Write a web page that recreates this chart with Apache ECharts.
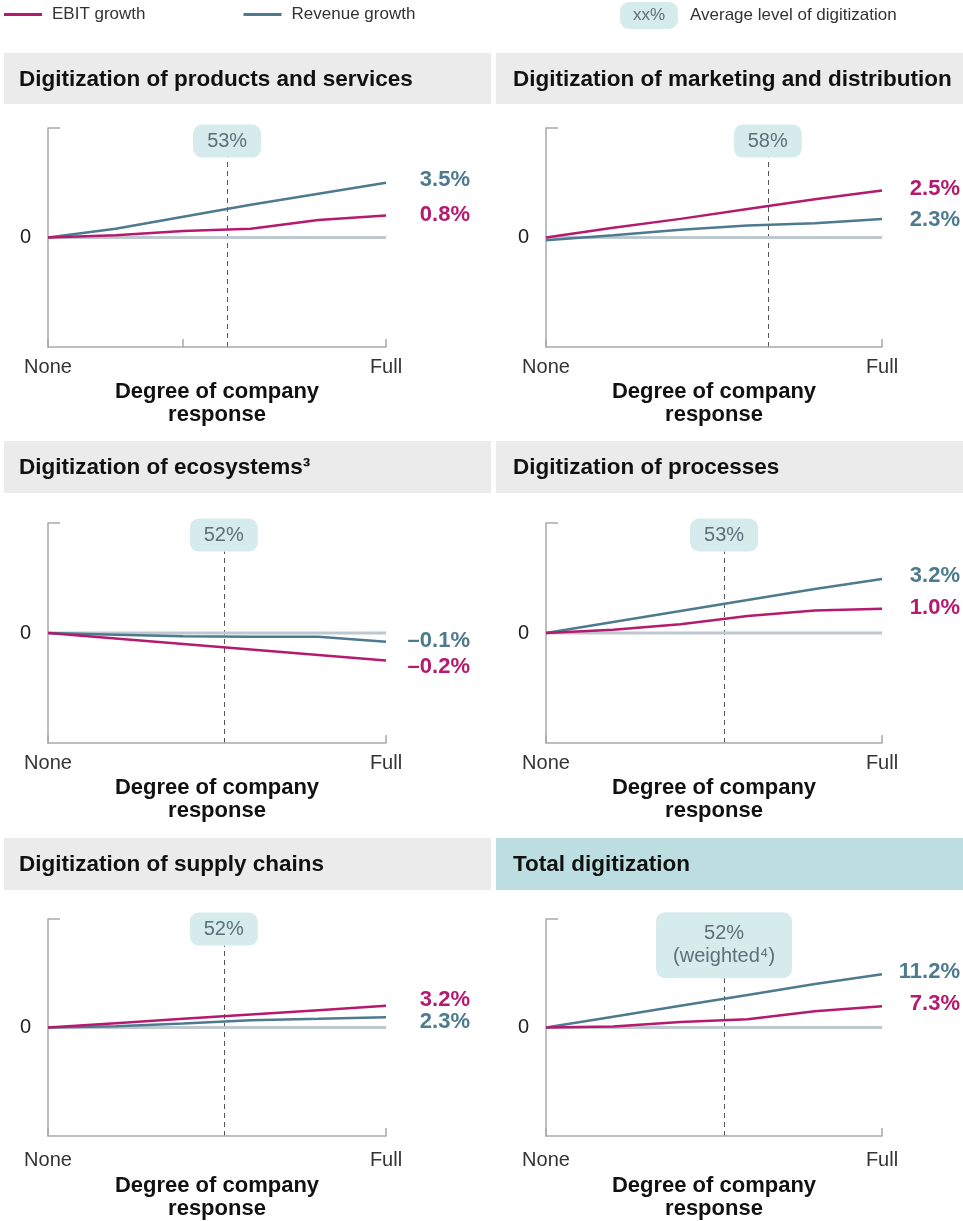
<!DOCTYPE html>
<html><head><meta charset="utf-8">
<script src="https://cdn.jsdelivr.net/npm/echarts@6/dist/echarts.min.js"></script>
<style>html,body{margin:0;padding:0;background:#fff}#c{width:963px;height:1221px}</style>
</head><body><div id="c"></div><script>
// ---------- data ----------
const panelTitles = [
  'Digitization of products and services',
  'Digitization of marketing and distribution',
  'Digitization of ecosystems³',
  'Digitization of processes',
  'Digitization of supply chains',
  'Total digitization'
];
const xLevels = [0, 20, 40, 60, 80, 100];            // degree of company response (None .. Full)
const xTickLabels = ['None', 'Full'];
const yTickLabel = '0';
// line heights (each panel on its own relative scale, -1..1)
const ebitProducts      = [0, 0.02, 0.06, 0.08, 0.16, 0.20];
const revenueProducts   = [0, 0.08, 0.19, 0.30, 0.40, 0.50];
const ebitMarketing     = [0, 0.09, 0.17, 0.26, 0.35, 0.43];
const revenueMarketing  = [-0.025, 0.02, 0.07, 0.11, 0.13, 0.17];
const ebitEcosystems    = [0, -0.05, -0.10, -0.15, -0.20, -0.25];
const revenueEcosystems = [0, -0.015, -0.03, -0.033, -0.035, -0.08];
const ebitProcesses     = [0, 0.03, 0.08, 0.155, 0.205, 0.22];
const revenueProcesses  = [0, 0.10, 0.20, 0.30, 0.40, 0.49];
const ebitSupply        = [0, 0.04, 0.08, 0.12, 0.16, 0.20];
const revenueSupply     = [0, 0.012, 0.036, 0.066, 0.08, 0.095];
const ebitTotal         = [0, 0.01, 0.05, 0.075, 0.15, 0.195];
const revenueTotal      = [0, 0.10, 0.20, 0.30, 0.40, 0.49];
const ebitEndLabels     = ['0.8%', '2.5%', '–0.2%', '1.0%', '3.2%', '7.3%'];
const revenueEndLabels  = ['3.5%', '2.3%', '–0.1%', '3.2%', '2.3%', '11.2%'];
const avgLabels         = ['53%', '58%', '52%', '53%', '52%', '52%\n(weighted⁴)'];
const avgPositions      = [53, 66, 52, 53, 52, 53];
const extraTicks        = [[40], [], [], [], [], []];

const ebitSeries = [ebitProducts, ebitMarketing, ebitEcosystems, ebitProcesses, ebitSupply, ebitTotal];
const revenueSeries = [revenueProducts, revenueMarketing, revenueEcosystems, revenueProcesses, revenueSupply, revenueTotal];

// ---------- layout / style ----------
const FONT = '"Liberation Sans", Arial, Helvetica, sans-serif';
const EBIT = '#b51a6e', REV = '#4d7a8e', AXIS = '#a9a9a9', ZERO = '#bec8cf';
const PILL = '#d6ebec', PILLTXT = '#5d7078';
const L = {
  colLeft: [48, 546], colWidth: [338, 336],
  rowTop: [128, 523, 919], rowHeight: [219, 220, 219],
  headerTop: [53, 441, 838], headerHeight: [51, 52, 52],
  headerLeft: [4, 496], headerWidth: [487, 467], titleLeft: [19, 513],
  labelRight: [470, 960],
  xLabelMargin: [10, 10, 14], nameGap: [33, 33, 38],
  dashTop: [0.73, 0.73, 0.74, 0.74, 0.755, 0.455],
  ebitDy: [-1, -1, 6, -1, -6, -2],
  revDy: [-3, 1, -1, -3, 5, -2]
};

const grids = [], xAxes = [], yAxes = [], series = [], graphics = [];
const pairs = ys => xLevels.map((x, i) => [x, ys[i]]);

for (let i = 0; i < 6; i++) {
  const row = Math.floor(i / 2), col = i % 2;
  grids.push({ left: L.colLeft[col], width: L.colWidth[col], top: L.rowTop[row], height: L.rowHeight[row] });
  xAxes.push({
    gridIndex: i, type: 'value', min: xLevels[0], max: xLevels[xLevels.length - 1], interval: 100,
    axisLine: { show: true, onZero: false, lineStyle: { color: AXIS, width: 1.5 } },
    axisTick: { show: true, inside: true, length: 8, lineStyle: { color: AXIS, width: 1.5 },
      customValues: [xLevels[0]].concat(extraTicks[i], [xLevels[xLevels.length - 1]]) },
    axisLabel: { margin: L.xLabelMargin[row], fontFamily: FONT, fontSize: 20, color: '#333',
      formatter: v => v === 0 ? xTickLabels[0] : xTickLabels[1] },
    splitLine: { show: false },
    name: 'Degree of company\nresponse', nameLocation: 'middle', nameGap: L.nameGap[row],
    nameTextStyle: { fontFamily: FONT, fontSize: 22, fontWeight: 'bold', color: '#111', lineHeight: 23 }
  });
  yAxes.push({
    gridIndex: i, type: 'value', min: -1, max: 1, interval: 1,
    axisLine: { show: true, onZero: false, lineStyle: { color: AXIS, width: 1.5 } },
    axisTick: { show: true, inside: true, length: 12, customValues: [1], lineStyle: { color: AXIS, width: 1.5 } },
    axisLabel: { margin: 17, fontFamily: FONT, fontSize: 20, color: '#222', formatter: v => v === 0 ? yTickLabel : '' },
    splitLine: { show: false }
  });
  const dx = L.labelRight[col] - (L.colLeft[col] + L.colWidth[col]);
  const endMark = (vals, text, color, dy) => ({
    symbol: 'circle', symbolSize: 1, itemStyle: { color: 'rgba(0,0,0,0)' }, silent: true,
    label: { show: true, position: 'inside', align: 'right', verticalAlign: 'middle', offset: [dx, dy],
      formatter: text, color: color, fontFamily: FONT, fontSize: 22, fontWeight: 'bold' },
    data: [{ coord: [xLevels[xLevels.length - 1], vals[vals.length - 1]] }]
  });
  // zero line + average-level marker
  series.push({
    type: 'line', xAxisIndex: i, yAxisIndex: i, data: [[xLevels[0], 0], [xLevels[xLevels.length - 1], 0]],
    symbol: 'none', silent: true, z: 1, lineStyle: { color: ZERO, width: 3 },
    markLine: {
      symbol: ['none', 'none'], silent: true, z: 0,
      lineStyle: { type: [5, 4], color: '#555', width: 1 },
      label: { show: true, position: 'end', distance: 0, formatter: avgLabels[i],
        backgroundColor: PILL, color: PILLTXT, fontFamily: FONT, fontSize: 20, lineHeight: 23,
        padding: i === 5 ? [10, 17, 10, 17] : [5, 14, 5, 14], borderRadius: 9, align: 'center' },
      data: [[{ coord: [avgPositions[i], -1] }, { coord: [avgPositions[i], L.dashTop[i]] }]]
    }
  });
  series.push({
    name: 'Revenue growth', type: 'line', xAxisIndex: i, yAxisIndex: i, data: pairs(revenueSeries[i]),
    symbol: 'none', z: 3, lineStyle: { color: REV, width: 2.5 }, itemStyle: { color: REV },
    markPoint: endMark(revenueSeries[i], revenueEndLabels[i], REV, L.revDy[i])
  });
  series.push({
    name: 'EBIT growth', type: 'line', xAxisIndex: i, yAxisIndex: i, data: pairs(ebitSeries[i]),
    symbol: 'none', z: 4, lineStyle: { color: EBIT, width: 2.5 }, itemStyle: { color: EBIT },
    markPoint: endMark(ebitSeries[i], ebitEndLabels[i], EBIT, L.ebitDy[i])
  });
  // header band
  graphics.push({ type: 'rect', z: -10, shape: { x: L.headerLeft[col], y: L.headerTop[row], width: L.headerWidth[col], height: L.headerHeight[row] },
    style: { fill: i === 5 ? '#bcdee0' : '#ebebeb' } });
  graphics.push({ type: 'text', z: 10, x: L.titleLeft[col], y: L.headerTop[row] + L.headerHeight[row] / 2 + 1,
    style: { text: panelTitles[i], fontFamily: FONT, fontSize: 22.5, fontWeight: 'bold', fill: '#111', verticalAlign: 'middle' } });
}
// legend pill item
graphics.push({ type: 'rect', shape: { x: 620, y: 2, width: 58, height: 27, r: 9 }, style: { fill: PILL } });
graphics.push({ type: 'text', x: 649, y: 15.5, style: { text: 'xx%', fontFamily: FONT, fontSize: 17, fill: PILLTXT, align: 'center', verticalAlign: 'middle' } });
graphics.push({ type: 'text', x: 690, y: 15.5, style: { text: 'Average level of digitization', fontFamily: FONT, fontSize: 17, fill: '#333', verticalAlign: 'middle' } });

const chart = echarts.init(document.getElementById('c'), null, { renderer: 'canvas' });
chart.setOption({
  animation: false,
  backgroundColor: '#fff',
  legend: { data: ['EBIT growth', 'Revenue growth'], left: 4, top: 6, padding: 0, icon: 'rect', itemWidth: 38, itemHeight: 3,
    itemGap: 98, selectedMode: false, textStyle: { fontFamily: FONT, fontSize: 17, color: '#333', padding: [0, 0, 0, 5] } },
  grid: grids, xAxis: xAxes, yAxis: yAxes, series: series, graphic: graphics
});
</script></body></html>
